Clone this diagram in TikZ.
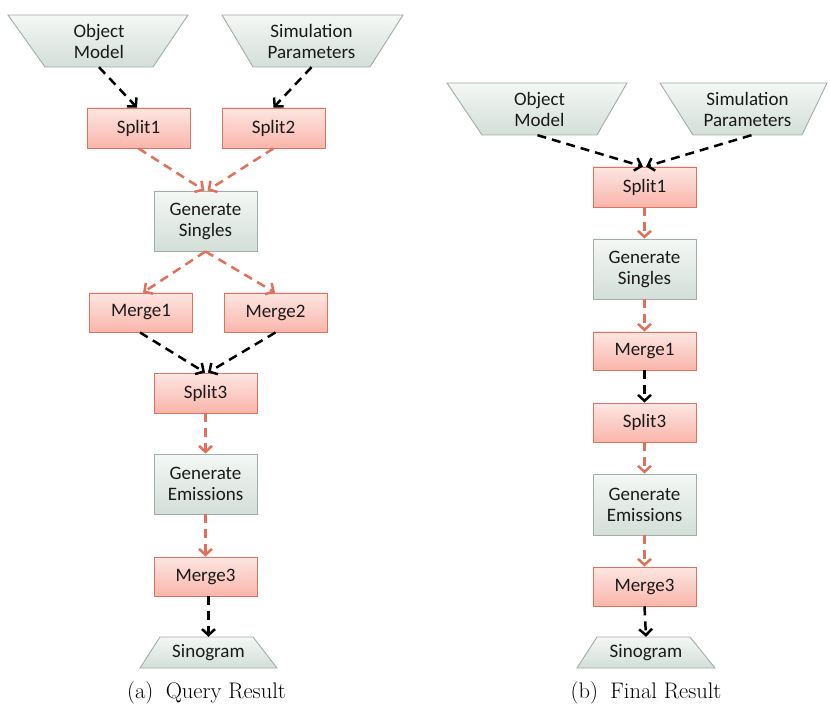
\documentclass[tikz,border=0pt]{standalone}
\usepackage{fontspec}
\newfontfamily\boxfont{Carlito}
\usetikzlibrary{arrows.meta,calc}
\definecolor{salfillT}{HTML}{FDE6E2}
\definecolor{salfillB}{HTML}{F9B5AB}
\definecolor{salline}{HTML}{E0725E}
\definecolor{salarrow}{HTML}{E07059}
\definecolor{grnfillT}{HTML}{F4F7F5}
\definecolor{grnfillB}{HTML}{D3DFD8}
\definecolor{grnline}{HTML}{A2ADA7}
\definecolor{txt}{HTML}{1A1A1A}
\tikzset{
  boxtext/.style={font=\boxfont\fontsize{19}{21}\selectfont, text=txt, align=center, inner sep=0pt},
  salbox/.style={boxtext, draw=salline, line width=0.9pt, top color=salfillT, bottom color=salfillB, minimum width=103pt, minimum height=40pt},
  grnbox/.style={boxtext, draw=grnline, line width=0.9pt, top color=grnfillT, bottom color=grnfillB, minimum width=103pt, minimum height=60pt},
  trapshade/.style={draw=grnline, line width=0.9pt, top color=grnfillT, bottom color=grnfillB},
  traptext/.style={boxtext, minimum width=20pt},
  conn/.style={line width=2.5pt, dash pattern=on 9pt off 6pt, -{Straight Barb[length=6pt,width=13pt]}},
  blk/.style={conn, draw=black},
  sal/.style={conn, draw=salarrow},
  captext/.style={font=\fontsize{22.5}{26}\selectfont, inner sep=0pt}
}
% name, ytop, ybot, topL, topR, botL, botR, text
\newcommand\trapnode[8]{%
  \shade[trapshade] (#4,#2) -- (#5,#2) -- (#7,#3) -- (#6,#3) -- cycle;
  \node[traptext, minimum height={(#3-#2)*1pt}] (#1) at ({(#6+#7)/2},{(#2+#3)/2}) {#8};
}
\begin{document}
\begin{tikzpicture}[x=1pt,y=-1pt]
\useasboundingbox (0,0) rectangle (830,711);
% ---------------- (a) Query Result ----------------
\trapnode{omA}{15}{67}{8}{188}{45}{153}{Object\\Model}
\trapnode{spA}{15}{67}{222}{403}{253}{370}{Simulation\\Parameters}
\node[salbox] (s1A) at (138.5,128) {Split1};
\node[salbox] (s2A) at (273.5,128) {Split2};
\node[grnbox] (gsA) at (205.5,221) {Generate\\Singles};
\node[salbox, minimum height=39pt] (m1A) at (141,312.5) {Merge1};
\node[salbox, minimum height=39pt] (m2A) at (275.5,312.5) {Merge2};
\node[salbox] (s3A) at (205.5,393) {Split3};
\node[grnbox] (geA) at (205.5,484) {Generate\\Emissions};
\node[salbox, minimum height=39pt] (m3A) at (205.5,576.5) {Merge3};
\trapnode{snA}{637}{668}{160}{253}{140}{277}{Sinogram}
\node[captext] (capA) at (206.5,693) {(a)\hspace{0.55em}Query Result};

\draw[blk] (omA.south) -- ([xshift=-1.5pt]s1A.north);
\draw[blk] (spA.south) -- (s2A.north);
\draw[sal] (s1A.south) -- ([xshift=-1pt]gsA.north);
\draw[sal] (s2A.south) -- ([xshift=2pt]gsA.north);
\draw[sal] (gsA.south) -- ([xshift=2pt]m1A.north);
\draw[sal] (gsA.south) -- ([xshift=-0.5pt]m2A.north);
\draw[blk] ([xshift=-1pt]m1A.south) -- ([xshift=-0.5pt]s3A.north);
\draw[blk] (m2A.south) -- ([xshift=2.5pt]s3A.north);
\draw[sal] (s3A.south) -- (geA.north);
\draw[sal] (geA.south) -- (m3A.north);
\draw[blk] ([xshift=3pt]m3A.south) -- (snA.north);

% ---------------- (b) Final Result ----------------
\trapnode{omB}{83}{135}{447}{627}{482}{597}{Object\\Model}
\trapnode{spB}{83}{135}{660}{827}{693}{802}{Simulation\\Parameters}
\node[salbox] (s1B) at (644.5,187) {Split1};
\node[grnbox] (gsB) at (644.5,269) {Generate\\Singles};
\node[salbox, minimum height=38pt] (m1B) at (644.5,351) {Merge1};
\node[salbox, minimum height=39pt] (s3B) at (644.5,422.5) {Split3};
\node[grnbox, minimum height=61pt] (geB) at (644.5,504.5) {Generate\\Emissions};
\node[salbox, minimum height=39pt] (m3B) at (644.5,586.5) {Merge3};
\trapnode{snB}{637}{668}{597}{690}{577}{715}{Sinogram}
\node[captext] (capB) at (646,693) {(b)\hspace{0.55em}Final Result};

\draw[blk] ([xshift=-2pt]omB.south) -- ([xshift=-1.5pt]s1B.north);
\draw[blk] ([xshift=4pt]spB.south) -- ([xshift=1.5pt]s1B.north);
\draw[sal] (s1B.south) -- (gsB.north);
\draw[sal] (gsB.south) -- (m1B.north);
\draw[blk] (m1B.south) -- (s3B.north);
\draw[sal] (s3B.south) -- (geB.north);
\draw[sal] (geB.south) -- (m3B.north);
\draw[blk] (m3B.south) -- (snB.north);
\end{tikzpicture}
\end{document}
